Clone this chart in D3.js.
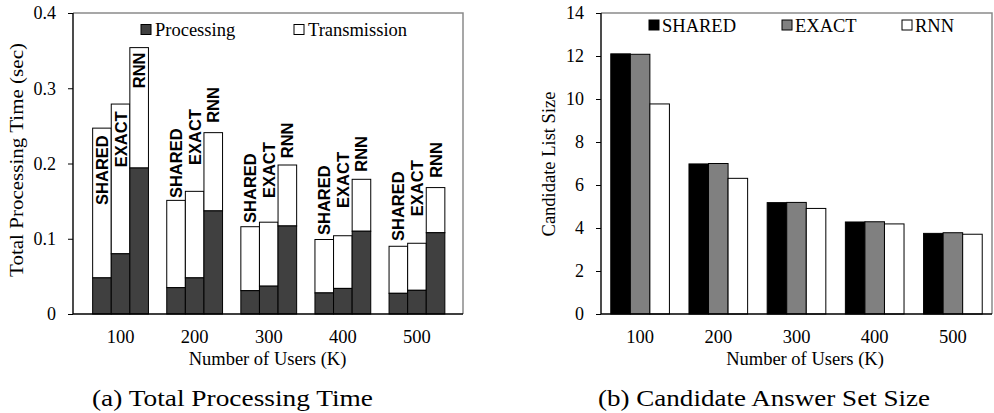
<!DOCTYPE html>
<html>
<head>
<meta charset="utf-8">
<script src="https://cdn.jsdelivr.net/npm/d3@7"></script>
<style>
  body { margin: 0; background: #fff; }
  svg { display: block; }
</style>
</head>
<body>
<script>
const USERS = ["100", "200", "300", "400", "500"];
const METHODS = ["SHARED", "EXACT", "RNN"];

// (a) total processing time, seconds
const procShared = [0.048, 0.035, 0.031, 0.028, 0.0275];
const procExact = [0.080, 0.048, 0.037, 0.034, 0.0315];
const procRnn = [0.194, 0.137, 0.117, 0.110, 0.108];
const transShared = [0.199, 0.116, 0.085, 0.071, 0.0625];
const transExact = [0.199, 0.115, 0.085, 0.070, 0.0625];
const transRnn = [0.160, 0.104, 0.081, 0.069, 0.060];
// where each rotated method tag starts, in seconds
const tagShared = [0.145, 0.154, 0.121, 0.105, 0.097];
const tagExact = [0.195, 0.198, 0.154, 0.141, 0.130];
const tagRnn = [0.300, 0.254, 0.207, 0.189, 0.181];
const TIME_TICKS = [0, 0.1, 0.2, 0.3, 0.4];

// (b) candidate list size
const candShared = [12.1, 6.98, 5.18, 4.28, 3.75];
const candExact = [12.08, 7.0, 5.19, 4.29, 3.78];
const candRnn = [9.77, 6.31, 4.91, 4.19, 3.71];
const SIZE_TICKS = [0, 2, 4, 6, 8, 10, 12, 14];

const PROC = { SHARED: procShared, EXACT: procExact, RNN: procRnn };
const TRANS = { SHARED: transShared, EXACT: transExact, RNN: transRnn };
const TAGS = { SHARED: tagShared, EXACT: tagExact, RNN: tagRnn };
const CAND = { SHARED: candShared, EXACT: candExact, RNN: candRnn };

const SERIF = "'Liberation Serif'";
const SANS = "'Liberation Sans'";

const svg = d3
  .select("body")
  .append("svg")
  .attr("width", 994)
  .attr("height", 413);

const serifText = (sel, size) =>
  sel
    .style("font-family", SERIF)
    .style("font-size", `${size}px`)
    .attr("fill", "#000");

const drawFrame = (x0, x1, y0, y1) => {
  svg
    .append("path")
    .attr("d", `M${x0},${y0}H${x1}V${y1}`)
    .attr("fill", "none")
    .attr("stroke", "#8a8a8a")
    .attr("stroke-width", 1.5);
};

const drawAxes = (xScale, yScale, ticks, fmt, x0, x1, y1) => {
  const yAxis = d3
    .axisLeft(yScale)
    .tickValues(ticks)
    .tickFormat(fmt)
    .tickSize(5)
    .tickSizeOuter(0)
    .tickPadding(12);
  const gy = svg
    .append("g")
    .attr("transform", `translate(${x0},0)`)
    .call(yAxis);
  serifText(gy.selectAll("text"), 18);
  gy.select(".domain").remove();
  gy.selectAll("line").attr("stroke", "#000");

  const xAxis = d3.axisBottom(xScale).tickSize(0).tickPadding(16);
  const gx = svg
    .append("g")
    .attr("transform", `translate(0,${y1})`)
    .call(xAxis);
  gx.select(".domain").remove();
  serifText(gx.selectAll("text"), 18.5);

  svg
    .append("path")
    .attr("d", `M${x0},${yScale.range()[1]}V${y1}H${x1}`)
    .attr("fill", "none")
    .attr("stroke", "#000")
    .attr("stroke-width", 1.4);
};

// ---------- (a) Total Processing Time ----------
const aLeft = 73,
  aRight = 463,
  plotTop = 13,
  plotBottom = 314;

const xA = d3
  .scaleBand()
  .domain(USERS)
  .range([83.5, 454])
  .paddingInner(0.247)
  .paddingOuter(0.1235);
const subA = d3.scaleBand().domain(METHODS).range([0, xA.bandwidth()]);
const yA = d3.scaleLinear().domain([0, 0.4]).range([plotBottom, plotTop]);

drawFrame(aLeft, aRight, plotTop, plotBottom);

const cellsA = [];
USERS.forEach((u, i) => {
  METHODS.forEach(m => {
    cellsA.push({ user: u, method: m, proc: PROC[m][i], trans: TRANS[m][i], tag: TAGS[m][i] });
  });
});

const gA = svg.append("g");
gA.selectAll(".trans")
  .data(cellsA)
  .enter()
  .append("rect")
  .attr("class", "trans")
  .attr("x", d => xA(d.user) + subA(d.method))
  .attr("width", subA.bandwidth())
  .attr("y", d => yA(d.proc + d.trans))
  .attr("height", d => yA(d.proc) - yA(d.proc + d.trans))
  .attr("fill", "#fff")
  .attr("stroke", "#000")
  .attr("stroke-width", 1);

gA.selectAll(".proc")
  .data(cellsA)
  .enter()
  .append("rect")
  .attr("class", "proc")
  .attr("x", d => xA(d.user) + subA(d.method))
  .attr("width", subA.bandwidth())
  .attr("y", d => yA(d.proc))
  .attr("height", d => yA(0) - yA(d.proc))
  .attr("fill", "#404040")
  .attr("stroke", "#000")
  .attr("stroke-width", 1);

gA.selectAll(".tag")
  .data(cellsA)
  .enter()
  .append("text")
  .attr("class", "tag")
  .style("font-family", SANS)
  .style("font-weight", "bold")
  .style("font-size", "16.5px")
  .attr("transform", d => {
    const cx = xA(d.user) + subA(d.method) + subA.bandwidth() / 2;
    return `translate(${cx},${yA(d.tag)}) rotate(-90)`;
  })
  .attr("dy", "0.36em")
  .text(d => d.method);

drawAxes(xA, yA, TIME_TICKS, d3.format("~g"), aLeft, aRight, plotBottom);

// legend (a)
const legA = [
  { name: "Processing", fill: "#404040", x: 141 },
  { name: "Transmission", fill: "#fff", x: 294 }
];
legA.forEach(l => {
  svg
    .append("rect")
    .attr("x", l.x)
    .attr("y", 24.5)
    .attr("width", 10)
    .attr("height", 10)
    .attr("fill", l.fill)
    .attr("stroke", "#000")
    .attr("stroke-width", 1);
  svg
    .append("text")
    .call(serifText, 18.5)
    .attr("x", l.x + 14)
    .attr("y", 36)
    .text(l.name);
});

svg
  .append("text")
  .call(serifText, 19)
  .attr("text-anchor", "middle")
  .attr("transform", "translate(23,160) rotate(-90)")
  .attr("textLength", 234)
  .attr("lengthAdjust", "spacingAndGlyphs")
  .text("Total Processing Time (sec)");

svg
  .append("text")
  .call(serifText, 18.5)
  .attr("text-anchor", "middle")
  .attr("x", 267.5)
  .attr("y", 365)
  .text("Number of Users (K)");

svg
  .append("text")
  .call(serifText, 23)
  .attr("text-anchor", "middle")
  .attr("x", 232.5)
  .attr("y", 406)
  .attr("textLength", 281)
  .attr("lengthAdjust", "spacingAndGlyphs")
  .text("(a) Total Processing Time");

// ---------- (b) Candidate Answer Set Size ----------
const bLeft = 601,
  bRight = 992;

const xB = d3
  .scaleBand()
  .domain(USERS)
  .range([bLeft, bRight])
  .paddingInner(0.25)
  .paddingOuter(0.125);
const subB = d3.scaleBand().domain(METHODS).range([0, xB.bandwidth()]);
const yB = d3.scaleLinear().domain([0, 14]).range([plotBottom, plotTop]);
const colB = d3.scaleOrdinal().domain(METHODS).range(["#000", "#808080", "#fff"]);

drawFrame(bLeft, bRight, plotTop, plotBottom);

const cellsB = [];
USERS.forEach((u, i) => {
  METHODS.forEach(m => {
    cellsB.push({ user: u, method: m, value: CAND[m][i] });
  });
});

svg
  .append("g")
  .selectAll("rect")
  .data(cellsB)
  .enter()
  .append("rect")
  .attr("x", d => xB(d.user) + subB(d.method))
  .attr("width", subB.bandwidth())
  .attr("y", d => yB(d.value))
  .attr("height", d => yB(0) - yB(d.value))
  .attr("fill", d => colB(d.method))
  .attr("stroke", "#000")
  .attr("stroke-width", 1);

drawAxes(xB, yB, SIZE_TICKS, d3.format("d"), bLeft, bRight, plotBottom);

const legB = [
  { name: "SHARED", x: 649 },
  { name: "EXACT", x: 782 },
  { name: "RNN", x: 902 }
];
legB.forEach(l => {
  svg
    .append("rect")
    .attr("x", l.x)
    .attr("y", 20)
    .attr("width", 10)
    .attr("height", 10)
    .attr("fill", colB(l.name))
    .attr("stroke", "#000")
    .attr("stroke-width", 1);
  svg
    .append("text")
    .call(serifText, 18.5)
    .attr("x", l.x + 13)
    .attr("y", 31.5)
    .text(l.name);
});

svg
  .append("text")
  .call(serifText, 18.5)
  .attr("text-anchor", "middle")
  .attr("transform", "translate(555,164) rotate(-90)")
  .text("Candidate List Size");

svg
  .append("text")
  .call(serifText, 18.5)
  .attr("text-anchor", "middle")
  .attr("x", 805)
  .attr("y", 365)
  .text("Number of Users (K)");

svg
  .append("text")
  .call(serifText, 23)
  .attr("text-anchor", "middle")
  .attr("x", 764)
  .attr("y", 406)
  .attr("textLength", 332)
  .attr("lengthAdjust", "spacingAndGlyphs")
  .text("(b) Candidate Answer Set Size");
</script>
</body>
</html>
